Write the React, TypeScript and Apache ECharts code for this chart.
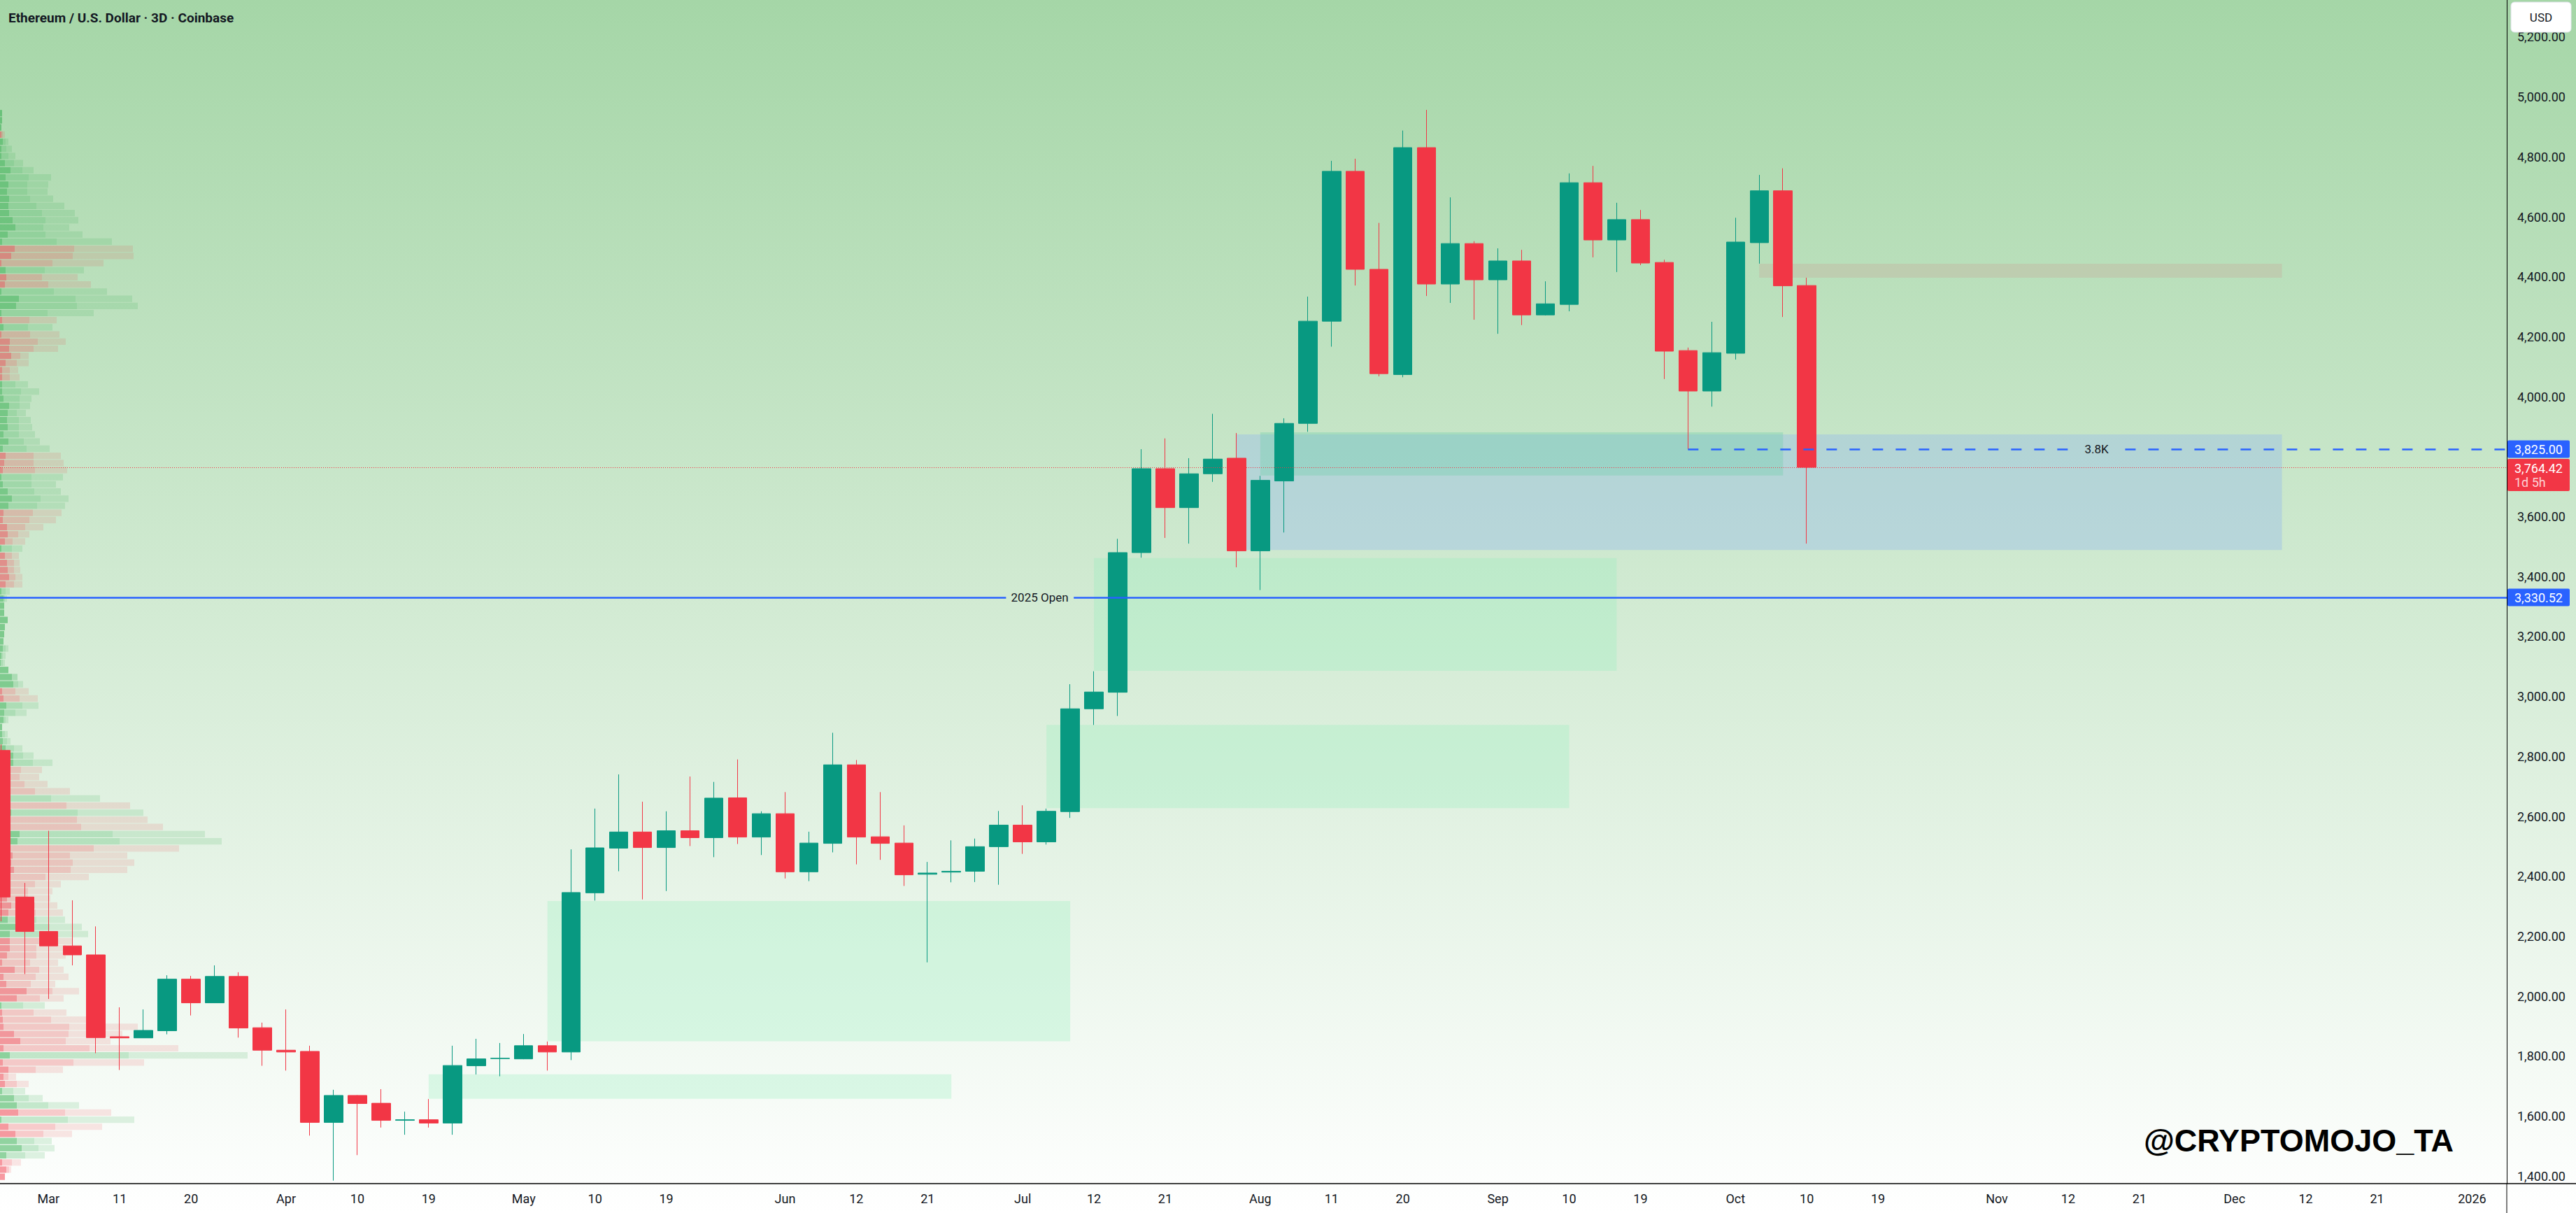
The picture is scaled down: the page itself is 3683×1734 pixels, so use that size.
import React, { useEffect, useRef } from 'react';
import * as echarts from 'echarts';

const W = 3683;
const H = 1734;
const FONT = 'Roboto, "Noto Sans", sans-serif';

// ---- Candles (3D, index 0 = Mar 2, 2025) ----
const firstCandleIndex = -2;
const opens = [2820, 2331, 2216, 2168, 2138, 1865, 1861, 1885, 2057, 1978, 2066, 1895, 1820, 1816, 1579, 1669, 1643, 1586, 1588, 1577, 1768, 1792, 1791, 1835, 1814, 2345, 2494, 2548, 2496, 2552, 2529, 2662, 2531, 2609, 2415, 2510, 2772, 2532, 2511, 2407, 2414, 2417, 2499, 2571, 2515, 2616, 2959, 3014, 3480, 3760, 3630, 3743, 3795, 3486, 3719, 3911, 4252, 4752, 4425, 4074, 4831, 4376, 4511, 4390, 4453, 4273, 4308, 4714, 4523, 4591, 4448, 4154, 4019, 4145, 4514, 4687, 4371];
const highs = [2840, 2378, 2552, 2320, 2233, 1963, 1956, 2070, 2068, 2103, 2080, 1912, 1956, 1835, 1688, 1670, 1690, 1615, 1657, 1835, 1858, 1844, 1874, 1849, 2490, 2626, 2740, 2649, 2617, 2733, 2715, 2790, 2617, 2681, 2549, 2879, 2788, 2681, 2570, 2448, 2520, 2526, 2618, 2637, 2626, 3041, 3084, 3526, 3825, 3861, 3795, 3943, 3879, 3736, 3928, 4334, 4787, 4794, 4580, 4888, 4957, 4665, 4519, 4495, 4490, 4385, 4745, 4770, 4647, 4623, 4457, 4164, 4250, 4597, 4740, 4762, 4397];
const lows = [2250, 2074, 1991, 2103, 1810, 1754, 1861, 1873, 1936, 1978, 1862, 1768, 1752, 1535, 1385, 1470, 1562, 1538, 1562, 1538, 1739, 1733, 1790, 1752, 1787, 2319, 2417, 2323, 2351, 2501, 2464, 2508, 2471, 2393, 2384, 2480, 2440, 2455, 2368, 2113, 2380, 2381, 2372, 2475, 2506, 2595, 2905, 2935, 3463, 3529, 3510, 3716, 3431, 3355, 3547, 3883, 4167, 4371, 4068, 4065, 4336, 4313, 4257, 4210, 4239, 4271, 4285, 4465, 4416, 4439, 4059, 3825, 3967, 4124, 4444, 4266, 3510];
const closes = [2331, 2216, 2168, 2138, 1862, 1861, 1886, 2057, 1978, 2066, 1894, 1820, 1814, 1579, 1669, 1642, 1586, 1588, 1577, 1769, 1791, 1793, 1835, 1814, 2346, 2495, 2548, 2496, 2552, 2529, 2661, 2531, 2609, 2415, 2511, 2772, 2531, 2510, 2405, 2411, 2417, 2499, 2571, 2515, 2617, 2959, 3015, 3480, 3760, 3630, 3743, 3792, 3486, 3721, 3911, 4252, 4752, 4425, 4077, 4831, 4376, 4511, 4390, 4453, 4273, 4310, 4714, 4523, 4591, 4446, 4152, 4019, 4147, 4516, 4687, 4370, 3764.42];

// ---- Axes ----
const xLabelIndex = [0, 3, 6, 10, 13, 16, 20, 23, 26, 31, 34, 37, 41, 44, 47, 51, 54, 57, 61, 64, 67, 71, 74, 77, 82, 85, 88, 92, 95, 98, 102];
const xLabelText = ['Mar', '11', '20', 'Apr', '10', '19', 'May', '10', '19', 'Jun', '12', '21', 'Jul', '12', '21', 'Aug', '11', '20', 'Sep', '10', '19', 'Oct', '10', '19', 'Nov', '12', '21', 'Dec', '12', '21', '2026'];
const priceTicks = [1400, 1600, 1800, 2000, 2200, 2400, 2600, 2800, 3000, 3200, 3400, 3600, 4000, 4200, 4400, 4600, 4800, 5000, 5200];
const xMin = -2.04;
const xMax = 103.46;
const yMin = 1374.9;
const yMax = 5323.5;

// ---- Levels ----
const open2025 = 3330.52;
const level38 = 3825;
const level38Start = 69;
const lastPrice = 3764.42;
const lastPriceCountdown = '1d 5h';

// ---- Zones (candle index / price) ----
const zoneStart = [16, 21, 42, 44, 50, 51, 72];
const zoneEnd = [38, 43, 64, 66, 94, 73, 94];
const zoneLow = [1658, 1849.7, 2627.5, 3085.3, 3488.6, 3737.4, 4397];
const zoneHigh = [1739.4, 2318, 2905.3, 3461.9, 3874.4, 3881.5, 4443.6];
const zoneKind = [0, 0, 0, 0, 1, 2, 3];
const zoneFill = ['rgba(150,240,190,0.3)', 'rgba(144,181,242,0.35)', 'rgba(121,208,176,0.4)', 'rgba(198,178,161,0.4)'];

// ---- Visible range volume profile (rows from top) ----
const profileTopPrice = 4956.7;
const profileRowSize = 23.813;
const profileSide = [1,1,1,0,1,1,1,1,1,1,1,1,1,1,1,1,1,1,1,0,0,0,1,0,0,1,1,1,1,0,1,0,0,0,0,0,0,0,1,1,1,1,1,1,1,1,1,1,0,0,0,1,1,1,1,1,0,0,0,0,0,1,0,0,0,0,0,1,1,1,1,1,1,1,1,1,1,1,1,1,1,0,
  0,1,1,1,1,1,1,1,1,1,0,0,0,0,1,0,1,0,0,1,1,0,0,0,0,0,0,0,0,0,0,1,1,1,0,0,0,0,0,0,0,0,0,1,0,0,0,0,0,0,1,0,0,0,0,1,1,1,0,1,0,0,1,1,1,0,0,0];
const profileDark = [3,3,2,2,4,2,2,7,15,8,12,10,13,12,13,18,22,11,3,21,16,2,8,9,7,2,27,23,2,3,5,2,14,13,16,8,3,3,3,3,5,13,11,10,11,5,12,4,8,6,4,2,4,11,17,12,5,4,10,11,7,2,7,10,11,13,8,2,5,6,6,11,7,6,5,4,2,1,12,17,19,3,
  5,9,6,5,3,3,4,8,19,19,15,15,15,15,15,15,16,15,15,28,25,15,18,16,20,15,10,10,10,16,12,11,22,14,14,14,10,3,21,5,9,38,24,2,3,4,5,20,29,5,14,4,12,5,7,3,20,24,26,2,12,22,24,31,9,3,9,7];
const profileMid = [3,3,2,4,8,9,12,20,32,41,39,39,43,52,60,65,62,65,81,106,104,75,64,60,69,77,108,110,68,42,40,43,54,48,29,24,14,14,22,30,28,28,24,27,27,27,34,38,48,48,50,45,45,49,58,53,47,42,36,26,18,17,17,20,20,22,20,8,7,6,6,11,7,6,5,8,4,4,12,25,26,22,
  28,32,22,8,3,7,10,20,33,47,30,28,35,50,73,95,111,110,116,161,171,134,100,104,101,65,50,40,40,50,51,52,71,83,56,52,52,43,56,51,44,75,57,33,48,73,99,98,94,128,184,105,51,12,24,19,41,69,93,97,79,62,49,55,36,17,13,7];
const profileTotal = [3,3,2,7,12,17,22,33,48,73,69,68,76,92,107,112,99,118,160,190,191,148,120,111,130,153,189,197,134,81,75,85,94,83,41,41,26,28,40,56,45,43,37,44,46,50,57,71,87,91,96,90,80,87,98,93,88,80,62,42,36,32,27,28,29,32,32,14,10,6,6,11,7,6,5,12,8,7,12,25,33,41,
  54,55,38,12,3,11,15,32,48,75,60,56,68,100,143,186,205,211,233,293,317,256,182,192,182,127,87,75,72,82,90,93,117,126,103,94,94,83,91,98,79,113,91,64,95,142,197,175,158,255,354,206,90,23,41,36,61,113,159,192,146,103,74,78,64,30,16,7];
const profileFill = [
  ['rgba(242,54,69,0.5)', 'rgba(242,54,69,0.25)', 'rgba(242,54,69,0.12)'],
  ['rgba(40,170,70,0.5)', 'rgba(40,170,70,0.25)', 'rgba(40,170,70,0.14)'],
];

// ---- Texts ----
const titleText = 'Ethereum / U.S. Dollar · 3D · Coinbase';
const watermarkText = '@CRYPTOMOJO_TA';
const openLabel = '2025 Open';
const level38Label = '3.8K';

const fmtPrice = (v: number) =>
  v.toLocaleString('en-US', { minimumFractionDigits: 2, maximumFractionDigits: 2 });

export default function App() {
  const ref = useRef<HTMLDivElement>(null);

  useEffect(() => {
    if (!ref.current) return;
    const chart = echarts.init(ref.current, null, { renderer: 'svg', width: W, height: H });

    const candleData = opens.map((o, k) => [firstCandleIndex + k, o, closes[k], lows[k], highs[k]]);
    const zoneData = zoneStart.map((s, k) => [s, zoneEnd[k], zoneLow[k], zoneHigh[k], zoneKind[k]]);
    const profileData = profileSide.map((side, j) => {
      const hi = profileTopPrice - j * profileRowSize;
      const lo = hi - profileRowSize;
      return [profileDark[j], profileMid[j], profileTotal[j], lo, hi, side];
    });
    const labelMap: Record<number, string> = {};
    xLabelIndex.forEach((v, k) => (labelMap[v] = xLabelText[k]));

    const tagBase = {
      show: true,
      position: 'end',
      distance: 1,
      color: '#ffffff',
      fontSize: 18,
      fontFamily: FONT,
      lineHeight: 18,
      padding: [4, 10, 3, 10],
      borderRadius: 2,
    };

    const option: any = {
      animation: false,
      backgroundColor: 'transparent',
      textStyle: { fontFamily: FONT },
      grid: { left: 0, right: 99, top: 0, bottom: 42, containLabel: false },
      xAxis: [
        {
          type: 'value',
          min: xMin,
          max: xMax,
          axisLine: { show: true, onZero: false, lineStyle: { color: '#000000', width: 1.5 } },
          axisTick: { show: false },
          splitLine: { show: false },
          axisLabel: {
            customValues: xLabelIndex,
            formatter: (v: number) => labelMap[Math.round(v)] ?? '',
            color: '#131722',
            fontSize: 18,
            fontFamily: FONT,
            margin: 12,
          },
        },
        { type: 'value', min: 0, max: 3584, show: false },
      ],
      yAxis: {
        type: 'value',
        position: 'right',
        min: yMin,
        max: yMax,
        axisLine: { show: true, onZero: false, lineStyle: { color: '#000000', width: 1 } },
        axisTick: { show: false },
        splitLine: { show: false },
        axisLabel: {
          customValues: priceTicks,
          formatter: (v: number) => fmtPrice(v),
          color: '#131722',
          fontSize: 18,
          fontFamily: FONT,
          margin: 15,
        },
      },
      series: [
        {
          type: 'custom',
          name: 'zones',
          xAxisIndex: 0,
          yAxisIndex: 0,
          z: 1,
          silent: true,
          clip: true,
          encode: { x: [0, 1], y: [2, 3] },
          data: zoneData,
          renderItem: (params: any, api: any) => {
            const p0 = api.coord([api.value(0), api.value(3)]);
            const p1 = api.coord([api.value(1), api.value(2)]);
            return {
              type: 'rect',
              shape: { x: p0[0], y: p0[1], width: p1[0] - p0[0], height: p1[1] - p0[1] },
              style: { fill: zoneFill[api.value(4)] },
            };
          },
        },
        {
          type: 'custom',
          name: 'profile',
          xAxisIndex: 1,
          yAxisIndex: 0,
          z: 2,
          silent: true,
          encode: { x: [0, 1, 2], y: [3, 4] },
          data: profileData,
          renderItem: (params: any, api: any) => {
            const d = api.value(0);
            const m = api.value(1);
            const t = api.value(2);
            const side = api.value(5);
            const top = api.coord([0, api.value(4)]);
            const bot = api.coord([0, api.value(3)]);
            const x0 = top[0];
            const xd = api.coord([d, api.value(4)])[0];
            const xm = api.coord([m, api.value(4)])[0];
            const xt = api.coord([t, api.value(4)])[0];
            const h = Math.max(1, bot[1] - top[1] - 1);
            const fills = profileFill[side];
            return {
              type: 'group',
              children: [
                { type: 'rect', shape: { x: x0, y: top[1], width: xd - x0, height: h }, style: { fill: fills[0] } },
                { type: 'rect', shape: { x: xd, y: top[1], width: xm - xd, height: h }, style: { fill: fills[1] } },
                { type: 'rect', shape: { x: xm, y: top[1], width: xt - xm, height: h }, style: { fill: fills[2] } },
              ],
            };
          },
        },
        {
          type: 'candlestick',
          name: 'ETHUSD',
          xAxisIndex: 0,
          yAxisIndex: 0,
          z: 3,
          barWidth: 27,
          data: candleData,
          itemStyle: {
            color: '#089981',
            color0: '#f23645',
            borderColor: '#089981',
            borderColor0: '#f23645',
            borderWidth: 1,
          },
          markLine: {
            silent: true,
            symbol: ['none', 'none'],
            animation: false,
            data: [
              [
                { coord: [xMin, open2025], lineStyle: { color: '#2962ff', width: 2.5, type: 'solid' }, label: { show: false } },
                { coord: [40.3, open2025] },
              ],
              [
                {
                  coord: [43.15, open2025],
                  lineStyle: { color: '#2962ff', width: 2.5, type: 'solid' },
                  label: { ...tagBase, formatter: fmtPrice(open2025), backgroundColor: '#2962ff' },
                },
                { coord: [xMax, open2025] },
              ],
              [
                { coord: [level38Start, level38], lineStyle: { color: '#2962ff', width: 2.5, type: [15, 18] }, label: { show: false } },
                { coord: [85.0, level38] },
              ],
              [
                {
                  coord: [87.4, level38],
                  lineStyle: { color: '#2962ff', width: 2.5, type: [15, 18] },
                  label: { ...tagBase, formatter: fmtPrice(level38), backgroundColor: '#2962ff' },
                },
                { coord: [xMax, level38] },
              ],
              {
                yAxis: lastPrice,
                lineStyle: { color: '#f23645', width: 1, type: [1, 2] },
                label: {
                  ...tagBase,
                  formatter: `{a|${fmtPrice(lastPrice)}}\n{b|${lastPriceCountdown}}`,
                  backgroundColor: '#f23645',
                  padding: [3, 10, 3, 10],
                  offset: [0, 11],
                  rich: {
                    a: { color: '#ffffff', fontSize: 18, fontFamily: FONT, lineHeight: 20 },
                    b: { color: 'rgba(255,255,255,0.78)', fontSize: 18, fontFamily: FONT, lineHeight: 20 },
                  },
                },
              },
            ],
          },
          markPoint: {
            silent: true,
            animation: false,
            data: [
              {
                coord: [41.72, open2025],
                symbol: 'rect',
                symbolSize: 1,
                itemStyle: { color: 'rgba(0,0,0,0)' },
                label: { show: true, position: 'inside', formatter: openLabel, color: '#131722', fontSize: 17, fontFamily: FONT },
              },
              {
                coord: [86.2, level38],
                symbol: 'rect',
                symbolSize: 1,
                itemStyle: { color: 'rgba(0,0,0,0)' },
                label: { show: true, position: 'inside', formatter: level38Label, color: '#131722', fontSize: 17, fontFamily: FONT },
              },
            ],
          },
        },
      ],
      graphic: [
        {
          type: 'text',
          left: 12,
          top: 16,
          z: 100,
          style: { text: titleText, fill: '#131722', font: `bold 19px ${FONT}` },
        },
        {
          type: 'rect',
          z: 100,
          shape: { x: 3590, y: 3, width: 86, height: 43, r: 5 },
          style: { fill: '#ffffff', stroke: '#e0e3eb', lineWidth: 1 },
        },
        {
          type: 'text',
          z: 101,
          x: 3633,
          y: 25,
          style: { text: 'USD', fill: '#131722', font: `17px ${FONT}`, textAlign: 'center', textVerticalAlign: 'middle' },
        },
        {
          type: 'line',
          z: 100,
          shape: { x1: 3584, y1: 1692, x2: 3584, y2: H },
          style: { stroke: '#000000', lineWidth: 1 },
        },
        {
          type: 'line',
          z: 100,
          shape: { x1: 3584, y1: 1692, x2: W, y2: 1692 },
          style: { stroke: '#000000', lineWidth: 1.5 },
        },
        {
          type: 'text',
          z: 100,
          x: 3508,
          y: 1630,
          style: {
            text: watermarkText,
            fill: '#000000',
            font: `bold 45px "Liberation Sans", Arial, sans-serif`,
            textAlign: 'right',
            textVerticalAlign: 'middle',
          },
        },
      ],
    };

    chart.setOption(option);
    return () => chart.dispose();
  }, []);

  return (
    <div
      ref={ref}
      style={{
        position: 'fixed',
        left: 0,
        top: 0,
        width: W,
        height: H,
        background: 'linear-gradient(to bottom, #a5d6a7 0%, #ffffff 100%)',
      }}
    />
  );
}
